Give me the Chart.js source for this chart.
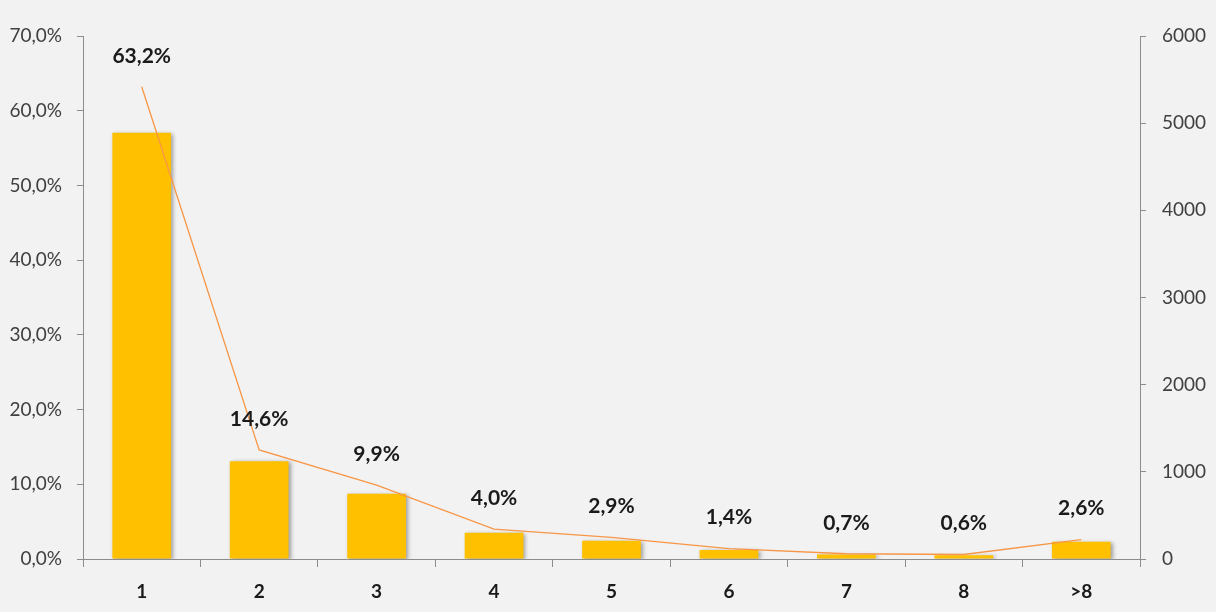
<!DOCTYPE html>
<html>
<head>
<meta charset="utf-8">
<script src="https://cdn.jsdelivr.net/npm/chart.js@4.4.1/dist/chart.umd.min.js"></script>
<style>
  html, body { margin: 0; padding: 0; background: #f2f2f2; }
  #wrap { width: 1216px; height: 612px; }
</style>
</head>
<body>
<div id="wrap"><canvas id="chart" width="1216" height="612"></canvas></div>
<script>
// distribution by number of items
const categories = ['1', '2', '3', '4', '5', '6', '7', '8', '>8'];
const counts = [4890, 1120, 750, 302, 210, 104, 53, 42, 198];
const shares = [63.2, 14.6, 9.9, 4.0, 2.9, 1.4, 0.7, 0.6, 2.6];

const FONT = 'Lato, "Open Sans", sans-serif';
const fmtPct = v => v.toFixed(1).replace('.', ',') + '%';

// soft drop shadow under the bars
const barShadow = {
    id: 'barShadow',
    beforeDatasetDraw(chart, args) {
        if (args.meta.type !== 'bar') return;
        const ctx = chart.ctx;
        ctx.save();
        ctx.shadowColor = 'rgba(0,0,0,0.35)';
        ctx.shadowBlur = 4;
        ctx.shadowOffsetX = 2;
        ctx.shadowOffsetY = 1;
    },
    afterDatasetDraw(chart, args) {
        if (args.meta.type !== 'bar') return;
        chart.ctx.restore();
    }
};

// percentage labels above the line points
const pctLabels = {
    id: 'pctLabels',
    afterDatasetsDraw(chart) {
        const meta = chart.getDatasetMeta(0);
        const ctx = chart.ctx;
        ctx.save();
        ctx.font = 'bold 21px ' + FONT;
        ctx.fillStyle = '#1a1a1a';
        ctx.textAlign = 'center';
        ctx.textBaseline = 'middle';
        meta.data.forEach((pt, i) => {
            ctx.fillText(fmtPct(shares[i]), pt.x, pt.y - 31);
        });
        ctx.restore();
    }
};

new Chart(document.getElementById('chart'), {
    data: {
        labels: categories,
        datasets: [
            {
                type: 'line',
                data: shares,
                yAxisID: 'y',
                borderColor: '#F79646',
                borderWidth: 1.3,
                pointRadius: 0,
                tension: 0,
                order: 0
            },
            {
                type: 'bar',
                data: counts,
                yAxisID: 'y1',
                backgroundColor: '#FFC000',
                barPercentage: 1,
                categoryPercentage: 0.5,
                order: 1
            }
        ]
    },
    options: {
        responsive: false,
        animation: false,
        layout: { padding: { top: 36, left: 0, right: 0, bottom: 0 } },
        plugins: { legend: { display: false }, tooltip: { enabled: false } },
        scales: {
            x: {
                offset: true,
                afterFit: s => { s.height = 53; },
                grid: {
                    offset: true,
                    drawOnChartArea: false,
                    tickLength: 8,
                    color: '#8c8c8c'
                },
                border: { color: '#8c8c8c' },
                ticks: {
                    padding: 13,
                    color: '#1a1a1a',
                    font: { family: FONT, size: 19, weight: 'bold' }
                }
            },
            y: {
                position: 'left',
                min: 0,
                max: 70,
                afterFit: s => { s.width = 83; },
                grid: { drawOnChartArea: false, tickLength: 6, color: '#8c8c8c' },
                border: { color: '#8c8c8c' },
                ticks: {
                    stepSize: 10,
                    padding: 15,
                    color: '#404040',
                    font: { family: FONT, size: 19 },
                    callback: v => fmtPct(v)
                }
            },
            y1: {
                position: 'right',
                min: 0,
                max: 6000,
                afterFit: s => { s.width = 76; },
                grid: { drawOnChartArea: false, tickLength: 6, color: '#8c8c8c' },
                border: { color: '#8c8c8c' },
                ticks: {
                    stepSize: 1000,
                    padding: 16,
                    color: '#404040',
                    font: { family: FONT, size: 19 },
                    callback: v => String(v)
                }
            }
        }
    },
    plugins: [barShadow, pctLabels]
});
</script>
</body>
</html>
